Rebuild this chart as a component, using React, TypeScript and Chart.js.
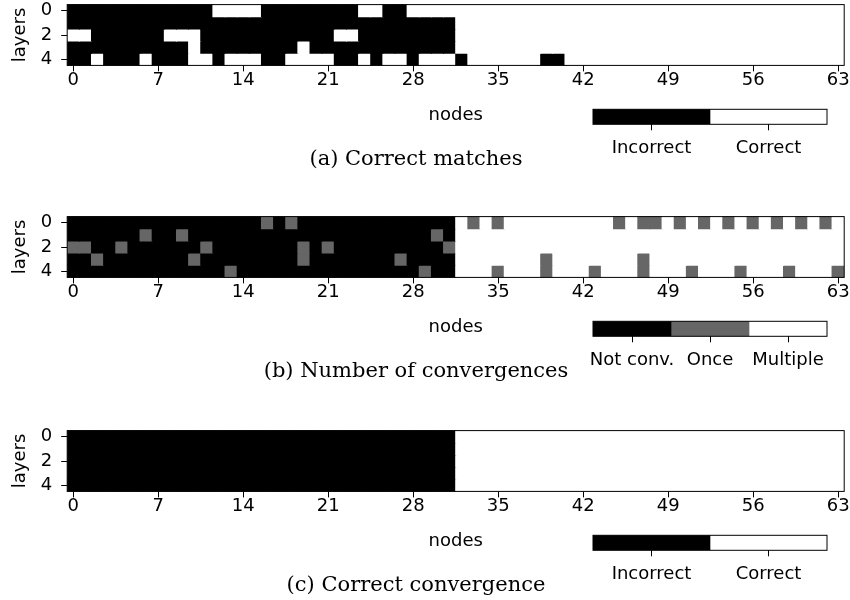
import React, { useEffect, useRef } from 'react';
import { Chart, registerables } from 'chart.js';
Chart.register(...registerables);

// ---------- data ----------
const nodeLabels = [
  '0','1','2','3','4','5','6','7','8','9','10','11','12','13','14','15',
  '16','17','18','19','20','21','22','23','24','25','26','27','28','29','30','31',
  '32','33','34','35','36','37','38','39','40','41','42','43','44','45','46','47',
  '48','49','50','51','52','53','54','55','56','57','58','59','60','61','62','63',
];
const layerTicks = [0, 1, 2, 3, 4];
const layerLabels = ['0', '', '2', '', '4'];
const nodeTickStep = 7;

// (a) correct matches: 0 = incorrect, 1 = correct
const matchLayer0 = [
  0,0,0,0,0,0,0,0, 0,0,0,0,1,1,1,1, 0,0,0,0,0,0,0,0, 1,1,0,0,1,1,1,1,
  1,1,1,1,1,1,1,1, 1,1,1,1,1,1,1,1, 1,1,1,1,1,1,1,1, 1,1,1,1,1,1,1,1,
];
const matchLayer1 = [
  0,0,0,0,0,0,0,0, 0,0,0,0,0,0,0,0, 0,0,0,0,0,0,0,0, 0,0,0,0,0,0,0,0,
  1,1,1,1,1,1,1,1, 1,1,1,1,1,1,1,1, 1,1,1,1,1,1,1,1, 1,1,1,1,1,1,1,1,
];
const matchLayer2 = [
  1,1,0,0,0,0,0,0, 1,1,1,0,0,0,0,0, 0,0,0,0,0,0,1,1, 0,0,0,0,0,0,0,0,
  1,1,1,1,1,1,1,1, 1,1,1,1,1,1,1,1, 1,1,1,1,1,1,1,1, 1,1,1,1,1,1,1,1,
];
const matchLayer3 = [
  0,0,0,0,0,0,0,0, 0,0,1,0,0,0,0,0, 0,0,0,1,0,0,0,0, 0,0,0,0,0,0,0,0,
  1,1,1,1,1,1,1,1, 1,1,1,1,1,1,1,1, 1,1,1,1,1,1,1,1, 1,1,1,1,1,1,1,1,
];
const matchLayer4 = [
  0,0,1,0,0,0,1,0, 0,0,1,1,0,1,1,1, 0,0,1,1,1,1,0,0, 1,0,1,1,0,1,1,1,
  0,1,1,1,1,1,1,0, 0,1,1,1,1,1,1,1, 1,1,1,1,1,1,1,1, 1,1,1,1,1,1,1,1,
];

// (b) number of convergences: 0 = not converged, 1 = once, 2 = multiple
const convLayer0 = [
  0,0,0,0,0,0,0,0, 0,0,0,0,0,0,0,0, 1,0,1,0,0,0,0,0, 0,0,0,0,0,0,0,0,
  2,1,2,1,2,2,2,2, 2,2,2,2,2,1,2,1, 1,2,1,2,1,2,1,2, 1,2,1,2,1,2,1,2,
];
const convLayer1 = [
  0,0,0,0,0,0,1,0, 0,1,0,0,0,0,0,0, 0,0,0,0,0,0,0,0, 0,0,0,0,0,0,1,0,
  2,2,2,2,2,2,2,2, 2,2,2,2,2,2,2,2, 2,2,2,2,2,2,2,2, 2,2,2,2,2,2,2,2,
];
const convLayer2 = [
  1,1,0,0,1,0,0,0, 0,0,0,1,0,0,0,0, 0,0,0,1,0,1,0,0, 0,0,0,0,0,0,0,1,
  2,2,2,2,2,2,2,2, 2,2,2,2,2,2,2,2, 2,2,2,2,2,2,2,2, 2,2,2,2,2,2,2,2,
];
const convLayer3 = [
  0,0,1,0,0,0,0,0, 0,0,1,0,0,0,0,0, 0,0,0,1,0,0,0,0, 0,0,0,1,0,0,0,0,
  2,2,2,2,2,2,2,1, 2,2,2,2,2,2,2,1, 2,2,2,2,2,2,2,2, 2,2,2,2,2,2,2,2,
];
const convLayer4 = [
  0,0,0,0,0,0,0,0, 0,0,0,0,0,1,0,0, 0,0,0,0,0,0,0,0, 0,0,0,0,0,1,0,0,
  2,2,2,1,2,2,2,1, 2,2,2,1,2,2,2,1, 2,2,2,1,2,2,2,1, 2,2,2,1,2,2,2,1,
];

// (c) correct convergence: 0 = incorrect, 1 = correct
const ccLayer0 = [
  0,0,0,0,0,0,0,0, 0,0,0,0,0,0,0,0, 0,0,0,0,0,0,0,0, 0,0,0,0,0,0,0,0,
  1,1,1,1,1,1,1,1, 1,1,1,1,1,1,1,1, 1,1,1,1,1,1,1,1, 1,1,1,1,1,1,1,1,
];
const ccLayer1 = [
  0,0,0,0,0,0,0,0, 0,0,0,0,0,0,0,0, 0,0,0,0,0,0,0,0, 0,0,0,0,0,0,0,0,
  1,1,1,1,1,1,1,1, 1,1,1,1,1,1,1,1, 1,1,1,1,1,1,1,1, 1,1,1,1,1,1,1,1,
];
const ccLayer2 = [
  0,0,0,0,0,0,0,0, 0,0,0,0,0,0,0,0, 0,0,0,0,0,0,0,0, 0,0,0,0,0,0,0,0,
  1,1,1,1,1,1,1,1, 1,1,1,1,1,1,1,1, 1,1,1,1,1,1,1,1, 1,1,1,1,1,1,1,1,
];
const ccLayer3 = [
  0,0,0,0,0,0,0,0, 0,0,0,0,0,0,0,0, 0,0,0,0,0,0,0,0, 0,0,0,0,0,0,0,0,
  1,1,1,1,1,1,1,1, 1,1,1,1,1,1,1,1, 1,1,1,1,1,1,1,1, 1,1,1,1,1,1,1,1,
];
const ccLayer4 = [
  0,0,0,0,0,0,0,0, 0,0,0,0,0,0,0,0, 0,0,0,0,0,0,0,0, 0,0,0,0,0,0,0,0,
  1,1,1,1,1,1,1,1, 1,1,1,1,1,1,1,1, 1,1,1,1,1,1,1,1, 1,1,1,1,1,1,1,1,
];

const matchColors = ['#000000', '#ffffff'];
const matchNames = ['Incorrect', 'Correct'];
const convColors = ['#000000', '#666666', '#ffffff'];
const convNames = ['Not conv.', 'Once', 'Multiple'];

const captions = ['(a) Correct matches', '(b) Number of convergences', '(c) Correct convergence'];

// ---------- styling / layout ----------
const SANS = "'DejaVu Sans', sans-serif";
const SERIF = "'DejaVu Serif', serif";
const FONT = { family: SANS, size: 18, lineHeight: 1 };
const panelOffsets = [0, 212.1, 426.1];

const framePlugin = {
  id: 'frame',
  afterDatasetsDraw(chart: any) {
    const { ctx, chartArea } = chart;
    const { left, top, right, bottom } = chartArea;
    ctx.save();
    ctx.strokeStyle = '#000';
    ctx.lineWidth = 1;
    ctx.strokeRect(left, top, right - left, bottom - top);
    ctx.restore();
  },
};

const noPad = (s: any) => {
  s.paddingTop = 0;
  s.paddingBottom = 0;
  s.paddingLeft = 0;
  s.paddingRight = 0;
};

function Heatmap({ rows, colors, top }: { rows: number[][]; colors: string[]; top: number }) {
  const ref = useRef<HTMLCanvasElement>(null);
  useEffect(() => {
    const chart = new Chart(ref.current!, {
      type: 'bar',
      data: {
        labels: nodeLabels,
        datasets: rows.map((row, r) => ({
          data: row.map(() => [r - 0.5, r + 0.5]),
          backgroundColor: row.map((v) => colors[v]),
          borderWidth: 0,
          inflateAmount: 0.5,
          barPercentage: 1,
          categoryPercentage: 1,
          grouped: false,
        })) as any,
      },
      options: {
        responsive: false,
        animation: false,
        events: [],
        layout: { padding: { top: 4.6, right: 5.8, bottom: 6, left: 0 } },
        plugins: { legend: { display: false }, tooltip: { enabled: false } },
        scales: {
          x: {
            type: 'category',
            offset: true,
            grid: {
              offset: false,
              drawOnChartArea: false,
              tickLength: 6,
              tickWidth: 1,
              tickColor: (c: any) => (c.index % nodeTickStep === 0 ? '#000' : 'rgba(0,0,0,0)'),
            },
            border: { display: false },
            ticks: {
              autoSkip: false,
              maxRotation: 0,
              minRotation: 0,
              padding: 0,
              color: '#000',
              font: FONT,
              callback: (_v: any, i: number) => (i % nodeTickStep === 0 ? nodeLabels[i] : ''),
            },
            title: { display: true, text: 'nodes', color: '#000', font: FONT, padding: { top: 0, bottom: 0 } },
            afterFit: (s: any) => {
              s.height = 58.6;
              noPad(s);
            },
          },
          y: {
            type: 'linear',
            min: -0.5,
            max: 4.5,
            reverse: true,
            afterBuildTicks: (s: any) => {
              s.ticks = layerTicks.map((v) => ({ value: v }));
            },
            grid: { drawOnChartArea: false, tickLength: 6, tickWidth: 1, tickColor: '#000' },
            border: { display: false },
            ticks: {
              padding: 9,
              color: '#000',
              font: FONT,
              callback: (_v: any, i: number) => layerLabels[i],
            },
            title: { display: true, text: 'layers', color: '#000', font: FONT, padding: { top: 11, bottom: 0 } },
            afterFit: (s: any) => {
              s.width = 67.2;
              noPad(s);
            },
          },
        },
      } as any,
      plugins: [framePlugin],
    });
    return () => chart.destroy();
  }, []);
  return (
    <canvas
      ref={ref}
      width={850}
      height={130}
      style={{ position: 'absolute', left: 0, top, width: 850, height: 130 }}
    />
  );
}

function ColorBar({ colors, names, top }: { colors: string[]; names: string[]; top: number }) {
  const ref = useRef<HTMLCanvasElement>(null);
  useEffect(() => {
    const chart = new Chart(ref.current!, {
      type: 'bar',
      data: {
        labels: [''],
        datasets: colors.map((c, i) => ({
          data: [[i, i + 1]],
          backgroundColor: c,
          borderWidth: 0,
          barPercentage: 1,
          categoryPercentage: 1,
          grouped: false,
        })) as any,
      },
      options: {
        indexAxis: 'y',
        responsive: false,
        animation: false,
        events: [],
        layout: { padding: { top: 14.3, right: 23, bottom: 0, left: 33 } },
        plugins: { legend: { display: false }, tooltip: { enabled: false } },
        scales: {
          y: { type: 'category', display: false },
          x: {
            type: 'linear',
            min: 0,
            max: colors.length,
            afterBuildTicks: (s: any) => {
              s.ticks = colors.map((_c, i) => ({ value: i + 0.5 }));
            },
            grid: { drawOnChartArea: false, tickLength: 6, tickWidth: 1, tickColor: '#000' },
            border: { display: false },
            ticks: {
              autoSkip: false,
              maxRotation: 0,
              minRotation: 0,
              padding: 8.7,
              color: '#000',
              font: FONT,
              callback: (_v: any, i: number) => names[i],
            },
            afterFit: (s: any) => {
              s.height = 40.7;
              noPad(s);
            },
          },
        },
      } as any,
      plugins: [framePlugin],
    });
    return () => chart.destroy();
  }, []);
  return (
    <canvas
      ref={ref}
      width={290}
      height={70}
      style={{ position: 'absolute', left: 560, top, width: 290, height: 70 }}
    />
  );
}

export default function App() {
  const panels = [
    { rows: [matchLayer0, matchLayer1, matchLayer2, matchLayer3, matchLayer4], colors: matchColors, names: matchNames },
    { rows: [convLayer0, convLayer1, convLayer2, convLayer3, convLayer4], colors: convColors, names: convNames },
    { rows: [ccLayer0, ccLayer1, ccLayer2, ccLayer3, ccLayer4], colors: matchColors, names: matchNames },
  ];
  return (
    <div style={{ position: 'absolute', left: 0, top: 0, width: 850, height: 600, background: '#fff', overflow: 'hidden' }}>
      {panels.map((p, k) => (
        <React.Fragment key={k}>
          <Heatmap rows={p.rows} colors={p.colors} top={panelOffsets[k]} />
          <ColorBar colors={p.colors} names={p.names} top={panelOffsets[k] + 95} />
          <div
            style={{
              position: 'absolute',
              left: 0,
              width: 832,
              top: panelOffsets[k] + 158 - 12,
              height: 24,
              lineHeight: '24px',
              textAlign: 'center',
              fontFamily: SERIF,
              fontSize: 21,
              color: '#000',
              whiteSpace: 'nowrap',
            }}
          >
            {captions[k]}
          </div>
        </React.Fragment>
      ))}
    </div>
  );
}
